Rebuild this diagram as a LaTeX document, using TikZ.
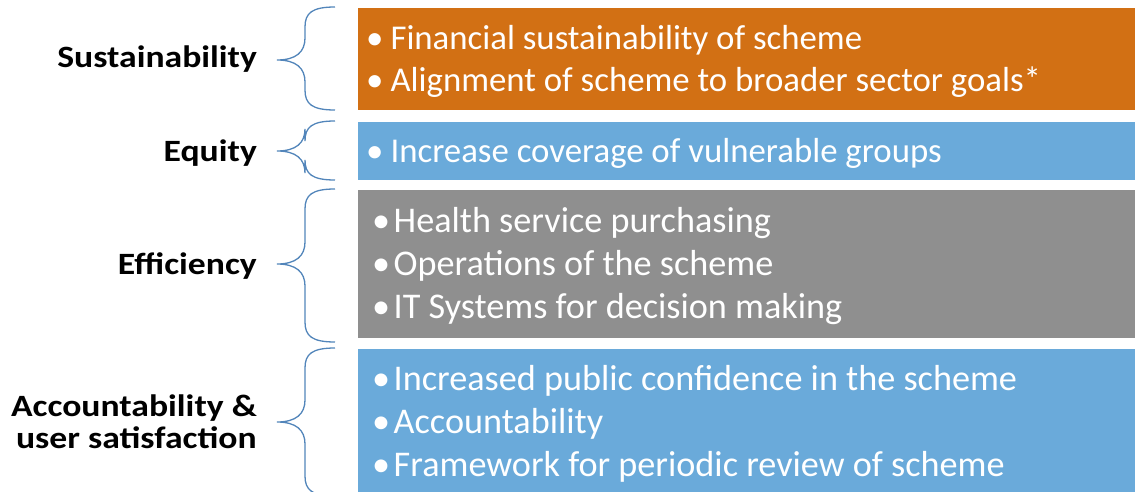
\documentclass[tikz,border=0pt]{standalone}
\usepackage{fontspec}
\setmainfont{Carlito}
\definecolor{orangebox}{HTML}{D27014}
\definecolor{bluebox}{HTML}{6AAADA}
\definecolor{graybox}{HTML}{8F8F8F}
\definecolor{bracecol}{HTML}{5285BA}
\tikzset{
  item/.style={anchor=base west, inner sep=0pt, text=white, font=\fontsize{34.8}{40}\selectfont},
  bigitem/.style={item, font=\fontsize{36.2}{42}\selectfont},
  label/.style={anchor=base east, inner sep=0pt, font=\bfseries\fontsize{31}{35}\selectfont, align=right},
  bracestroke/.style={draw=bracecol, line width=1.3pt},
}
% curly brace: #1 top, #2 tip, #3 bottom (y values)
\newcommand{\curlybrace}[3]{%
  \draw[bracestroke] (335,#1) .. controls (312,#1) and (305,#1+6) .. (305,#1+20)
    -- (305,#2-22) .. controls (305,#2-8) and (296,#2) .. (277,#2)
    .. controls (296,#2) and (305,#2+8) .. (305,#2+22)
    -- (305,#3-20) .. controls (305,#3-6) and (312,#3) .. (335,#3);}
\newcommand{\bul}{\textbullet\hspace{7pt}}
\newcommand{\tbul}{\textbullet\hspace{3.5pt}}
\newcommand{\wide}[1]{\scalebox{1.15}[1]{#1}}
\begin{document}
\begin{tikzpicture}[x=1pt,y=-1pt]
\useasboundingbox (0,0) rectangle (1135,492);
\clip (0,0) rectangle (1135,492);
% coloured bands
\fill[orangebox] (358,8) rectangle (1135,110);
\fill[bluebox] (358,122) rectangle (1135,180);
\fill[graybox] (358,190) rectangle (1135,338);
\fill[bluebox] (358,349) rectangle (1135,492);
% braces
\curlybrace{7}{60}{110}
\curlybrace{121}{151}{180}
\curlybrace{189}{264}{342}
\curlybrace{348}{422}{496}
% category labels
\node[label] (sus) at (257,68) {\wide{Sustainability}};
\node[label] (equ) at (257,161) {\wide{Equity}};
\node[label] (eff) at (257,274) {\wide{Efficiency}};
\node[label, anchor=east] (acc) at (257,422) {\wide{Accountability \&}\\[-3pt]\wide{user satisfaction}};
% band items
\node[item] (s1) at (366,50) {\bul Financial sustainability of scheme};
\node[item] (s2) at (366,92) {\bul Alignment of scheme to broader sector goals*};
\node[item] (q1) at (366,162) {\bul Increase coverage of vulnerable groups};
\node[bigitem] (f1) at (372,232) {\tbul Health service purchasing};
\node[bigitem] (f2) at (372,275) {\tbul Operations of the scheme};
\node[bigitem] (f3) at (372,318) {\tbul IT Systems for decision making};
\node[bigitem] (a1) at (372,390) {\tbul Increased public confidence in the scheme};
\node[bigitem] (a2) at (372,433) {\tbul Accountability};
\node[bigitem] (a3) at (372,476) {\tbul Framework for periodic review of scheme};
\end{tikzpicture}
\end{document}
